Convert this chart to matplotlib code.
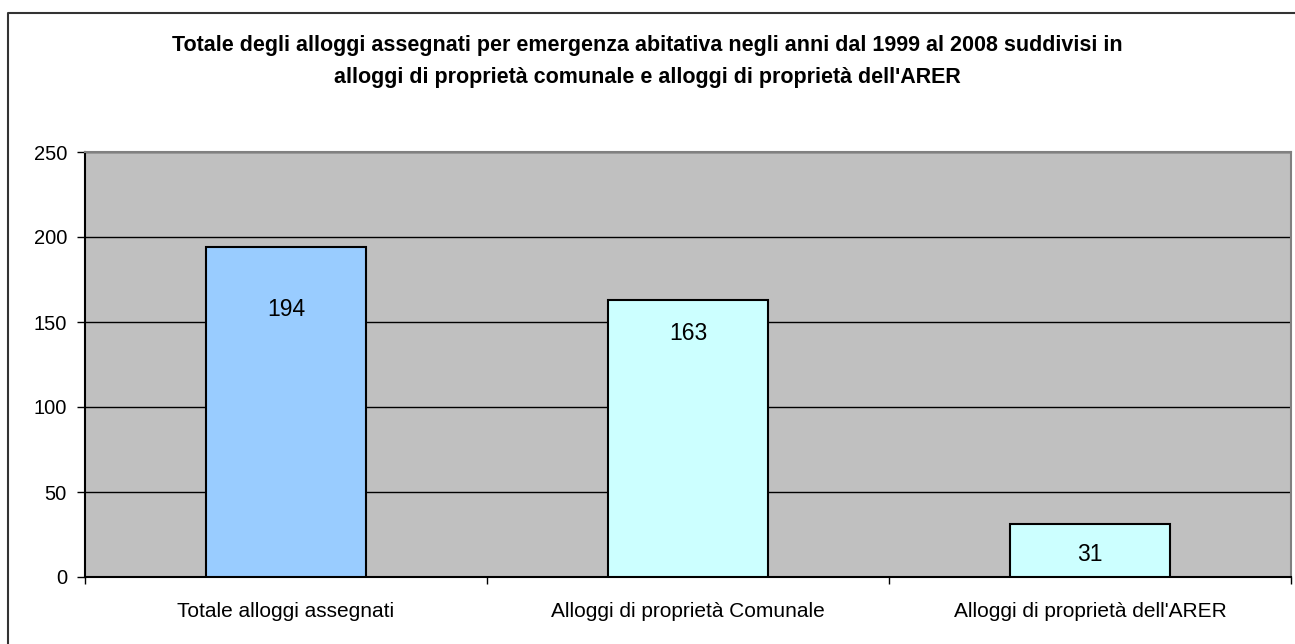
import matplotlib.pyplot as plt
from matplotlib.lines import Line2D
from matplotlib.ticker import FixedLocator

categories = ['Totale alloggi assegnati', 'Alloggi di proprietà Comunale', "Alloggi di proprietà dell'ARER"]
values = [194, 163, 31]
colors = ['#99CCFF', '#CCFFFF', '#CCFFFF']
title = ("Totale degli alloggi assegnati per emergenza abitativa negli anni dal 1999 al 2008 suddivisi in\n"
         "alloggi di proprietà comunale e alloggi di proprietà dell'ARER")

# where each value label sits below the bar top, in pixels
label_drop = [62, 34, 30]

plt.rcParams['font.family'] = ['Liberation Sans', 'DejaVu Sans']

W, H = 1295, 644
fig = plt.figure(figsize=(W / 100, H / 100), dpi=100)

# outer chart frame (top and left visible in the crop)
fig.add_artist(Line2D([8 / W, 8 / W, 1.0], [0.0, 1 - 13 / H, 1 - 13 / H],
                      transform=fig.transFigure, color='#333333', lw=1.5))

ax = fig.add_axes([85 / W, (H - 577) / H, 1206 / W, (577 - 152) / H])
ax.set_facecolor('#C0C0C0')

x = range(len(categories))
bars = ax.bar(x, values, width=0.4, color=colors, edgecolor='black', linewidth=1.5, zorder=3)
for b, v, d in zip(bars, values, label_drop):
    ax.annotate(str(v), (b.get_x() + b.get_width() / 2, v), xytext=(0, -d * 0.72),
                textcoords='offset points', ha='center', va='center', fontsize=16.5, zorder=4)

ax.set_xlim(-0.5, len(categories) - 0.5)
ax.set_ylim(0, 250)
ax.set_yticks(range(0, 251, 50))
ax.yaxis.grid(True, color='black', lw=1)
ax.set_axisbelow(True)

ax.set_xticks(list(x))
ax.set_xticklabels(categories, fontsize=15)
ax.xaxis.set_minor_locator(FixedLocator([i - 0.5 for i in range(len(categories) + 1)]))
ax.tick_params(axis='x', which='major', length=0, pad=18)
ax.tick_params(axis='x', which='minor', length=5, width=1, direction='out')
ax.tick_params(axis='y', labelsize=14.5, length=6, width=1, pad=7)

ax.spines['left'].set_color('black')
ax.spines['bottom'].set_color('black')
ax.spines['top'].set_color('#808080')
ax.spines['right'].set_color('#808080')
for s in ax.spines.values():
    s.set_linewidth(1.5)

fig.text(0.5, 1 - 61.5 / H, title, ha='center', va='center', fontsize=15.5,
         fontweight='bold', linespacing=1.65)

fig.savefig('out.png', dpi=100)
